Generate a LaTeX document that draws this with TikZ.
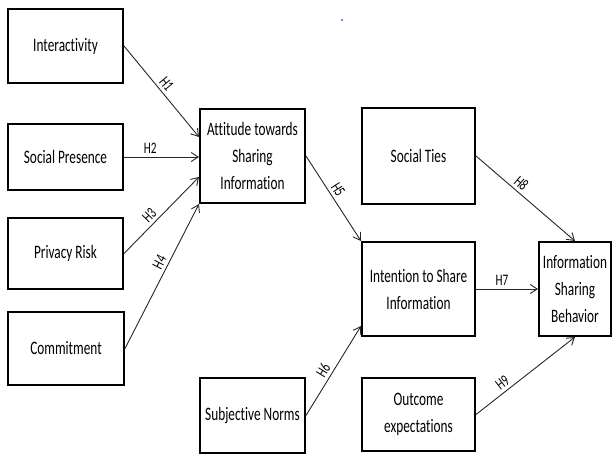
\documentclass[tikz,border=0pt]{standalone}
\usepackage{fontspec}
\setmainfont[FakeStretch=0.7, Ligatures=NoCommon]{Carlito}
\usetikzlibrary{arrows.meta}

\begin{document}
\begin{tikzpicture}[x=1pt, y=-1pt,
    construct/.style={draw, line width=2pt, align=center, inner sep=0pt,
      font=\fontsize{19}{27}\selectfont},
    path/.style={line width=0.9pt, draw=black!85, -{Straight Barb[length=7pt,width=9pt]}},
    hyp/.style={font=\fontsize{16}{18}\selectfont, sloped, above, inner sep=3pt}]
    \useasboundingbox (0,0) rectangle (612,454);

    % left column
    \node[construct, minimum width=115pt, minimum height=74pt] (inter) at (65.5,46) {Interactivity};
    \node[construct, minimum width=115pt, minimum height=66pt] (pres) at (65.5,157) {Social Presence};
    \node[construct, minimum width=115pt, minimum height=71pt] (risk) at (65.5,253.5) {Privacy Risk};
    \node[construct, minimum width=116pt, minimum height=73pt] (commit) at (66,348.5) {Commitment};

    % middle column
    \node[construct, minimum width=105pt, minimum height=94pt] (att) at (252.5,156) {Attitude towards\\Sharing\\Information};
    \node[construct, minimum width=105pt, minimum height=75pt] (norms) at (252.5,415.5) {Subjective Norms};

    % right columns
    \node[construct, minimum width=113pt, minimum height=96pt] (ties) at (418.5,156) {Social Ties};
    \node[construct, minimum width=113pt, minimum height=94pt] (intent) at (418.5,289) {Intention to Share\\Information};
    \node[construct, minimum width=113pt, minimum height=73pt] (outcome) at (418.5,414.5) {Outcome\\expectations};
    \node[construct, minimum width=72pt, minimum height=94pt] (behav) at (575,289) {Information\\Sharing\\Behavior};

    \fill[blue] (342,20) circle (0.8pt);

    % hypotheses
    \draw[path] (inter.east) -- node[hyp, pos=0.48] {H1} ([yshift=19pt]att.west);
    \draw[path] (pres.east) -- node[hyp, pos=0.35] {H2} (pres.east -| att.west);
    \draw[path] (risk.east) -- node[hyp, pos=0.42] {H3} ([yshift=-21pt]att.west);
    \draw[path] (commit.east) -- node[hyp, pos=0.57] {H4} (att.south west);
    \draw[path] (att.east) -- node[hyp, pos=0.45] {H5} (intent.north west);
    \draw[path] (norms.east) -- node[hyp, pos=0.45] {H6} ([yshift=-37pt]intent.west);
    \draw[path] (intent.east) -- node[hyp, pos=0.42] {H7} (behav.west);
    \draw[path] (ties.east) -- node[hyp, pos=0.4] {H8} (behav.north);
    \draw[path] (outcome.east) -- node[hyp, pos=0.32] {H9} (behav.south);
\end{tikzpicture}
\end{document}
